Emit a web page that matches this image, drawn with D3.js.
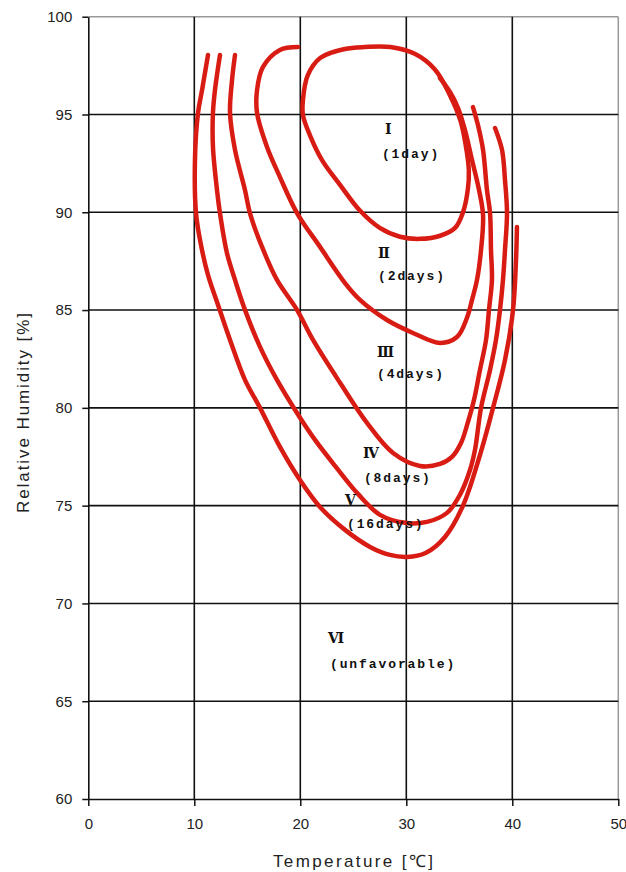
<!DOCTYPE html>
<html>
<head>
<meta charset="utf-8">
<script src="https://cdn.jsdelivr.net/npm/d3@7"></script>
<style>
  html, body { margin: 0; padding: 0; background: #fff; }
  svg { display: block; }
</style>
</head>
<body>
<svg id="chart" width="626" height="872"></svg>
<script>
// ---- data (temperature °C, relative humidity %) ----
const xTicks = [0, 10, 20, 30, 40, 50];
const yTicks = [60, 65, 70, 75, 80, 85, 90, 95, 100];
const xTitle = "Temperature [\u2103]";
const yTitle = "Relative Humidity [%]";

// curve I (1 day) - closed loop
const curveI = [[24.2,98.35],[21.9,97.9],[20.7,97.0],[20.25,95.74],[20.25,94.97],[20.9,93.95],[22.05,92.67],[23.75,91.4],[25.6,90.1],[27.5,89.2],[29.4,88.75],[31.3,88.64],[33.2,88.8],[34.6,89.2],[35.35,90.0],[35.8,91.15],[35.9,92.15],[35.6,93.45],[35.1,94.7],[34.1,96.0],[32.7,97.3],[30.8,98.1],[28.5,98.45],[26.1,98.45]];
// curve II (2 days)
const curveII = [[19.78,98.45],[18.08,98.3],[16.48,97.43],[15.92,96.25],[15.92,95.08],[16.86,93.34],[18.08,91.8],[19.69,89.96],[21.86,88.23],[24.22,86.38],[25.63,85.52],[28.18,84.49],[30.63,83.83],[33.18,83.32],[34.78,83.62],[35.72,84.6],[36.2,85.52],[36.67,86.54],[37.05,88.07],[37.24,89.86],[36.86,91.14],[36.2,92.67],[35.53,94.21],[34.88,95.33],[34.12,96.15],[33.18,96.86]];
// curve III (4 days)
const curveIII = [[13.84,98.04],[13.56,96.76],[13.37,95.08],[13.84,93.19],[14.78,91.14],[15.25,89.96],[16.39,88.23],[17.8,86.54],[19.69,85.01],[21.2,83.47],[23.75,81.28],[26.29,79.23],[28.75,77.69],[31.29,77.03],[33.18,77.13],[34.31,77.49],[35.16,78.2],[35.82,79.28],[36.39,80.41],[36.95,81.94],[37.52,83.47],[37.8,85.01],[38.08,86.54],[37.99,88.07],[37.9,89.96],[37.61,91.14],[37.24,93.19],[36.76,94.46],[36.29,95.38]];
// curve IV (8 days)
const curveIV = [[12.42,98.04],[11.95,96.25],[11.76,95.08],[11.76,93.34],[12.14,91.14],[12.42,89.96],[13.08,87.92],[13.84,86.54],[14.78,85.01],[16.2,83.12],[17.8,81.43],[19.69,79.74],[21.39,78.36],[23.37,76.97],[25.44,75.6],[27.52,74.53],[29.88,74.12],[31.95,74.17],[33.84,74.63],[35.06,75.55],[36.01,76.82],[36.48,77.85],[37.05,80.0],[37.9,81.94],[38.46,83.47],[38.84,85.01],[39.12,86.54],[39.31,88.07],[39.5,89.96],[39.31,91.65],[39.03,93.19],[38.37,94.31]];
// curve V (16 days)
const curveV = [[11.29,98.04],[10.73,96.25],[10.35,95.08],[10.07,92.83],[10.16,89.96],[10.63,88.33],[11.29,86.8],[12.24,85.26],[13.37,83.47],[14.78,81.43],[16.2,80.0],[18.08,78.0],[19.97,76.31],[21.86,74.93],[24.22,73.76],[26.58,72.89],[28.46,72.48],[30.07,72.38],[31.82,72.58],[33.65,73.4],[35.34,74.99],[36.95,77.59],[38.18,80.0],[39.31,82.45],[40.07,85.01],[40.35,87.56],[40.44,89.25]];

// zone labels: numeral, description, numeral position, description position
const zoneNumerals = ["\u2160", "\u2161", "\u2162", "\u2163", "\u2164", "\u2165"];
const zoneTexts = ["(1day)", "(2days)", "(4days)", "(8days)", "(16days)", "(unfavorable)"];
const zoneNumeralPos = [[28.0,94.0],[27.33,87.66],[27.23,82.6],[25.91,77.44],[24.22,75.04],[22.62,67.98]];
const zoneTextPos = [[27.7,92.77],[27.33,86.54],[27.23,81.53],[26.0,76.21],[24.4,73.86],[22.8,66.7]];

// ---- drawing ----
const svg = d3.select("#chart");
const pLeft = 88.3, pRight = 618.3, pTop = 16.7, pBottom = 799;
const x = d3.scaleLinear().domain([0, 50]).range([pLeft, pRight]);
const y = d3.scaleLinear().domain([60, 100]).range([pBottom, pTop]);

const gridColor = "#111";
// frame (top & right in grey)
svg.append("line").attr("x1", pLeft).attr("x2", pRight).attr("y1", pTop).attr("y2", pTop)
  .attr("stroke", "#999").attr("stroke-width", 1.5);
svg.append("line").attr("x1", pRight).attr("x2", pRight).attr("y1", pTop).attr("y2", pBottom)
  .attr("stroke", "#999").attr("stroke-width", 1.5);

// grid lines
svg.append("g").selectAll("line").data(yTicks.filter(d => d > 60 && d < 100)).join("line")
  .attr("x1", pLeft).attr("x2", pRight).attr("y1", d => y(d)).attr("y2", d => y(d))
  .attr("stroke", gridColor).attr("stroke-width", 1.6);
svg.append("g").selectAll("line").data(xTicks.filter(d => d > 0 && d < 50)).join("line")
  .attr("x1", d => x(d)).attr("x2", d => x(d)).attr("y1", pTop).attr("y2", pBottom)
  .attr("stroke", gridColor).attr("stroke-width", 1.6);

// axes
const yAxis = svg.append("g").attr("transform", `translate(${pLeft},0)`)
  .call(d3.axisLeft(y).tickValues(yTicks).tickSize(6).tickPadding(10).tickSizeOuter(0));
const xAxis = svg.append("g").attr("transform", `translate(0,${pBottom})`)
  .call(d3.axisBottom(x).tickValues(xTicks).tickSize(7).tickPadding(12).tickSizeOuter(0));
[yAxis, xAxis].forEach(a => {
  a.select(".domain").attr("stroke", gridColor).attr("stroke-width", 1.6);
  a.selectAll(".tick line").attr("stroke", gridColor).attr("stroke-width", 1.5);
  a.selectAll(".tick text").attr("fill", "#222")
    .style("font-family", "'Liberation Sans', Arial, sans-serif").style("font-size", "15px");
});

// titles
svg.append("text").attr("x", 353).attr("y", 867).attr("text-anchor", "middle")
  .attr("textLength", 160).attr("lengthAdjust", "spacing")
  .style("font-family", "'Liberation Sans', Arial, sans-serif").style("font-size", "17px")
  .attr("fill", "#222").text(xTitle);
svg.append("text").attr("transform", "translate(29,413) rotate(-90)").attr("text-anchor", "middle")
  .attr("textLength", 200).attr("lengthAdjust", "spacing")
  .style("font-family", "'Liberation Sans', Arial, sans-serif").style("font-size", "17px")
  .attr("fill", "#222").text(yTitle);

// curves
const red = "#d81c14";
const lineOpen = d3.line().x(d => x(d[0])).y(d => y(d[1])).curve(d3.curveCatmullRom.alpha(0.5));
const lineClosed = d3.line().x(d => x(d[0])).y(d => y(d[1])).curve(d3.curveCatmullRomClosed.alpha(0.5));
const curvesG = svg.append("g").attr("fill", "none").attr("stroke", red)
  .attr("stroke-width", 4.5).attr("stroke-linecap", "round").attr("stroke-linejoin", "round");
curvesG.append("path").attr("d", lineClosed(curveI));
[curveII, curveIII, curveIV, curveV].forEach(c => curvesG.append("path").attr("d", lineOpen(c)));

// zone labels
const lab = svg.append("g").attr("fill", "#111");
lab.selectAll("text.num").data(zoneNumerals).join("text").attr("class", "num")
  .attr("x", (d, i) => x(zoneNumeralPos[i][0])).attr("y", (d, i) => y(zoneNumeralPos[i][1]))
  .style("font-family", "'Liberation Serif', 'DejaVu Serif', serif").style("font-size", "14px")
  .style("font-weight", "bold").text(d => d);
lab.selectAll("text.desc").data(zoneTexts).join("text").attr("class", "desc")
  .attr("x", (d, i) => x(zoneTextPos[i][0])).attr("y", (d, i) => y(zoneTextPos[i][1]))
  .style("font-family", "'Liberation Mono', 'DejaVu Sans Mono', monospace").style("font-size", "13px")
  .style("font-weight", "bold").style("letter-spacing", "1.9px").text(d => d);
</script>
</body>
</html>
